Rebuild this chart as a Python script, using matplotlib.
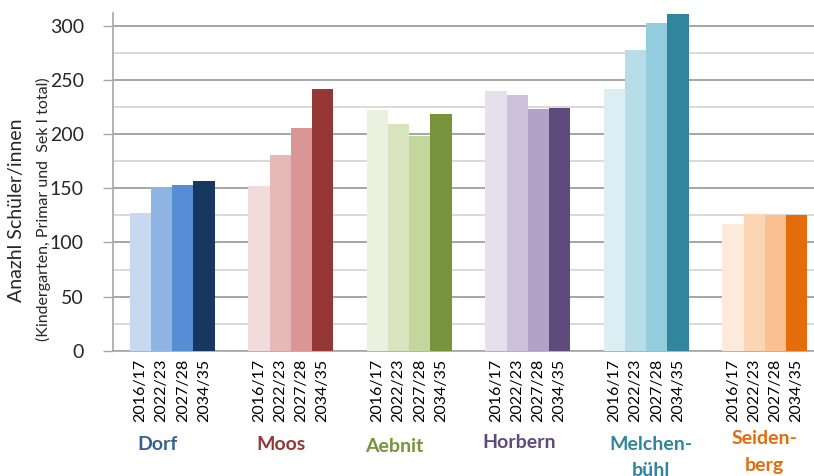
import numpy as np
import matplotlib.pyplot as plt
from matplotlib.ticker import MultipleLocator
import matplotlib.transforms as mtransforms

plt.rcParams['font.family'] = ['Lato', 'DejaVu Sans']

schulen = ['Dorf', 'Moos', 'Aebnit', 'Horbern', 'Melchen-\nbühl', 'Seiden-\nberg']
jahre = ['2016/17', '2022/23', '2027/28', '2034/35']

dorf = [127, 151, 153, 157]
moos = [152, 181, 206, 242]
aebnit = [222, 209, 198, 219]
horbern = [240, 236, 223, 224]
melchenbuehl = [242, 278, 303, 311]
seidenberg = [117, 126, 125, 125]
werte = [dorf, moos, aebnit, horbern, melchenbuehl, seidenberg]

farben = [
    ['#C6D9F1', '#8EB4E3', '#558ED5', '#17375E'],
    ['#F2DCDB', '#E6B9B8', '#D99694', '#953735'],
    ['#EBF1DE', '#D7E4BD', '#C3D69B', '#77933C'],
    ['#E6E0EC', '#CCC1DA', '#B3A2C7', '#604A7B'],
    ['#DBEEF4', '#B7DEE8', '#93CDDD', '#31859C'],
    ['#FDEADA', '#FCD5B5', '#FAC090', '#E46C0A'],
]
label_farben = ['#376092', '#953735', '#77933C', '#604A7B', '#31859C', '#E46C0A']

fig = plt.figure(figsize=(8.14, 4.76), dpi=100)
ax = fig.add_axes([113 / 814, 125.3 / 476, 711 / 814, 337.7 / 476])

breite = 0.179
tick_pos = []
tick_lab = []
for i, (w, f) in enumerate(zip(werte, farben)):
    x = i + (np.arange(4) - 1.5) * breite
    ax.bar(x, w, width=breite, color=f, edgecolor='none', zorder=3)
    tick_pos += list(x)
    tick_lab += jahre

ax.set_xlim(-0.5, 5.5)
ax.set_ylim(0, 312)
ax.yaxis.set_major_locator(MultipleLocator(50))
ax.yaxis.set_minor_locator(MultipleLocator(25))
ax.grid(which='major', axis='y', color='#A6A6A6', linewidth=1.4, zorder=0)
ax.grid(which='minor', axis='y', color='#D9D9D9', linewidth=1.4, zorder=0)

ax.set_xticks(tick_pos)
ax.set_xticklabels(tick_lab, rotation=90, fontsize=11.5)
ax.tick_params(axis='x', length=0, pad=6)
ax.tick_params(axis='y', which='major', length=7, width=1, color='#A6A6A6',
               labelsize=14, pad=14, labelcolor='#262626')
ax.tick_params(axis='y', which='minor', length=0)

for s in ['top', 'right']:
    ax.spines[s].set_visible(False)
for s in ['left', 'bottom']:
    ax.spines[s].set_color('#A6A6A6')
    ax.spines[s].set_linewidth(1.2)

# Schulnamen unter den Jahresbeschriftungen, zweizeilige Namen zeilenweise
trans = mtransforms.blended_transform_factory(ax.transData, fig.transFigure)
versatz = [-0.12, -0.08, -0.13, -0.07, 0.04, 0.0]
hoehe = [445, 445, 446, 443, 444, 439]
for i, name in enumerate(schulen):
    y = 1 - hoehe[i] / 476
    for k, zeile in enumerate(name.split('\n')):
        ax.text(i + versatz[i], y - k * 27 / 476, zeile, transform=trans,
                ha='center', va='center', fontsize=14, fontweight='bold',
                color=label_farben[i])

fig.text(17 / 814, 1 - 210 / 476, 'Anazhl Schüler/innen', rotation=90,
         ha='center', va='center', fontsize=14, color='#262626')
fig.text(43 / 814, 1 - 209 / 476, '(Kindergarten, Primar und  Sek I total)',
         rotation=90, ha='center', va='center', fontsize=11.5, color='#262626')

fig.savefig('out.png', dpi=100)
